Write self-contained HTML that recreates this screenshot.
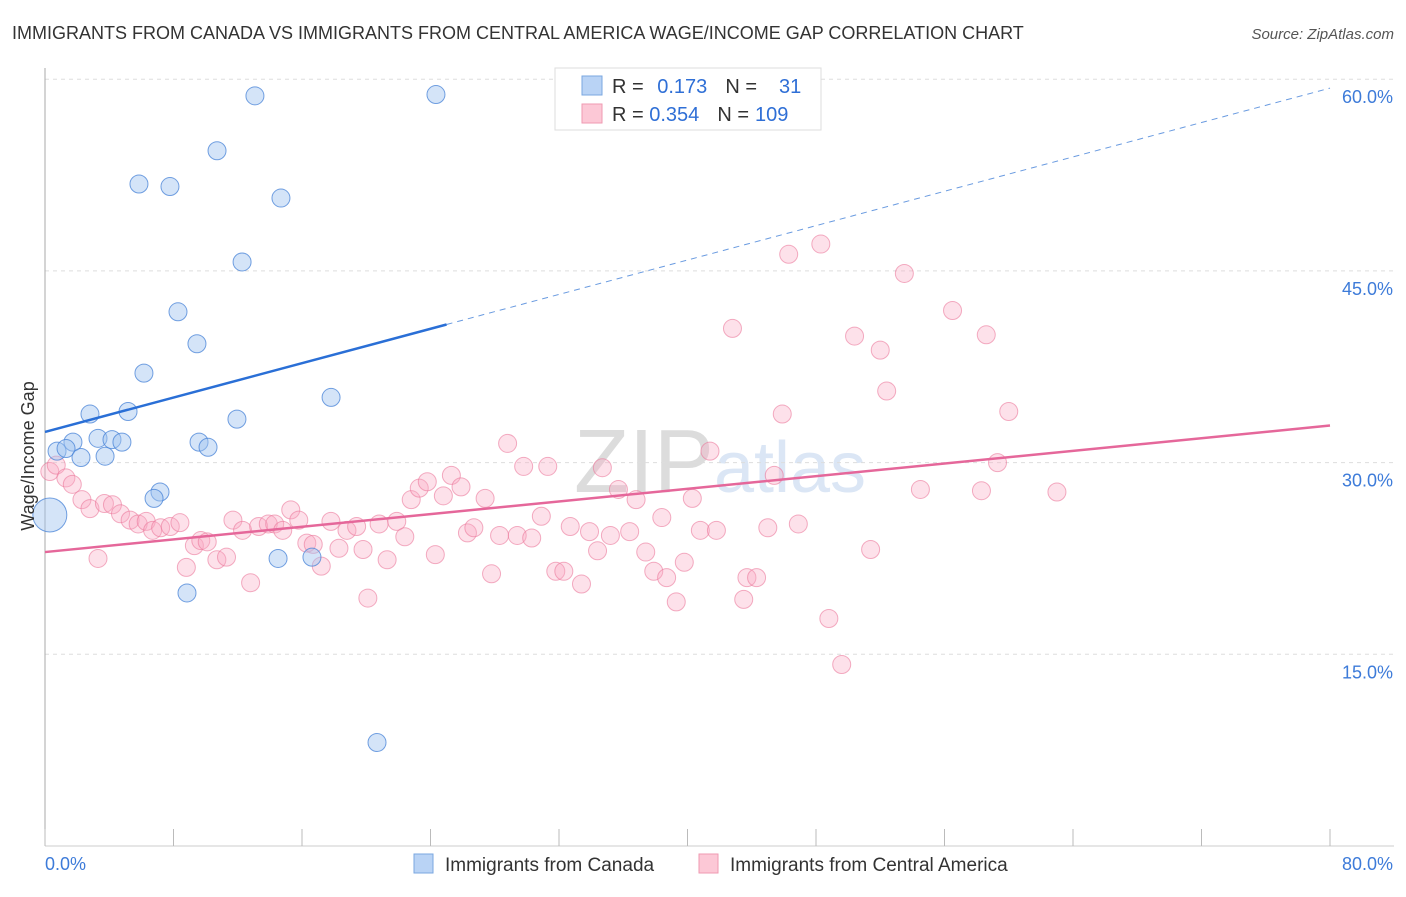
<!DOCTYPE html>
<html><head><meta charset="utf-8"><style>
body{margin:0;background:#fff;font-family:"Liberation Sans",sans-serif;}
svg text{font-family:"Liberation Sans",sans-serif;}
</style></head><body>
<svg id="chart" width="1406" height="892" viewBox="0 0 1406 892">
<text x="12" y="39" font-size="18" fill="#333">IMMIGRANTS FROM CANADA VS IMMIGRANTS FROM CENTRAL AMERICA WAGE/INCOME GAP CORRELATION CHART</text>
<text x="1394" y="39" font-size="15" fill="#555" text-anchor="end" font-style="italic">Source: ZipAtlas.com</text>
<text x="720" y="492" font-size="90" fill="#e4e4e4" text-anchor="middle" font-family="Liberation Serif"><tspan fill="#dcdcdc">ZIP</tspan><tspan fill="#dbe6f5" font-family="Liberation Sans" font-size="72">atlas</tspan></text>
<g id="grid"></g>
<g id="axes"></g>
<g id="pink"></g>
<g id="blue"></g>
<g id="lines"></g>
<text transform="translate(34,456) rotate(-90)" font-size="18" fill="#333" text-anchor="middle">Wage/Income Gap</text>
<g>
<rect x="555" y="68" width="266" height="62" fill="#fff" stroke="#ddd"/>
<rect x="582" y="76" width="20" height="19" fill="#b9d3f5" stroke="#7aa7e0"/>
<rect x="582" y="104" width="20" height="19" fill="#fcc8d6" stroke="#ef9ab2"/>
<text x="612" y="93" font-size="20" fill="#333">R = <tspan fill="#2f6fd6" dx="8">0.173</tspan><tspan fill="#333" dx="18">N =</tspan><tspan fill="#2f6fd6" dx="22">31</tspan></text>
<text x="612" y="121" font-size="20" fill="#333">R = <tspan fill="#2f6fd6">0.354</tspan><tspan fill="#333" dx="18">N =</tspan><tspan fill="#2f6fd6" dx="6">109</tspan></text>
</g>
<g>
<rect x="414" y="854" width="19" height="19" fill="#b9d3f5" stroke="#7aa7e0"/>
<text x="445" y="871" font-size="19" fill="#333">Immigrants from Canada</text>
<rect x="699" y="854" width="19" height="19" fill="#fcc8d6" stroke="#ef9ab2"/>
<text x="730" y="871" font-size="19" fill="#333">Immigrants from Central America</text>
</g>
</svg>
<script>
const blueX=[13.07,24.34,10.71,5.85,7.78,14.69,12.27,8.28,9.46,6.16,17.81,5.17,2.80,11.95,3.30,4.17,4.79,1.74,9.59,10.15,0.75,1.31,2.24,3.74,7.16,6.79,14.51,16.62,8.84,20.67];
const blueY=[58.7,58.8,54.4,51.8,51.6,50.7,45.7,41.8,39.3,37.0,35.1,34.0,33.8,33.4,31.9,31.8,31.6,31.6,31.6,31.2,30.9,31.1,30.4,30.5,27.7,27.2,22.5,22.6,19.8,8.1];
const blueBigX=[0.3];
const blueBigY=[25.9];
const pinkX=[0.3,0.7,1.3,1.7,2.3,2.8,3.3,3.7,4.2,4.7,5.3,5.8,6.3,6.7,7.2,7.8,8.4,8.8,9.3,9.7,10.1,10.7,11.3,11.7,12.3,12.8,13.3,13.9,14.3,14.8,15.3,15.8,16.3,16.7,17.2,17.8,18.3,18.8,19.4,19.8,20.1,20.8,21.3,21.9,22.4,22.8,23.3,23.8,24.3,24.8,25.3,25.9,26.3,26.7,27.4,27.8,28.3,28.8,29.4,29.8,30.3,30.9,31.3,31.8,32.3,32.7,33.4,33.9,34.4,34.7,35.2,35.7,36.4,36.8,37.4,37.9,38.4,38.7,39.3,39.8,40.3,40.8,41.4,41.8,42.8,43.5,43.7,44.3,45.0,45.4,45.9,46.3,46.9,48.3,48.8,49.6,50.4,51.4,52.0,52.4,53.5,54.5,56.5,58.3,58.6,59.3,60.0,63.0];
const pinkY=[29.3,29.8,28.8,28.3,27.1,26.4,22.5,26.8,26.7,26.0,25.5,25.2,25.4,24.7,24.9,25.0,25.3,21.8,23.5,23.9,23.8,22.4,22.6,25.5,24.7,20.6,25.0,25.2,25.2,24.7,26.3,25.5,23.7,23.6,21.9,25.4,23.3,24.7,25.0,23.2,19.4,25.2,22.4,25.4,24.2,27.1,28.0,28.5,22.8,27.4,29.0,28.1,24.5,24.9,27.2,21.3,24.3,31.5,24.3,29.7,24.1,25.8,29.7,21.5,21.5,25.0,20.5,24.6,23.1,29.6,24.3,27.9,24.6,27.1,23.0,21.5,25.7,21.0,19.1,22.2,27.2,24.7,30.9,24.7,40.5,19.3,21.0,21.0,24.9,29.0,33.8,46.3,25.2,47.1,17.8,14.2,39.9,23.2,38.8,35.6,44.8,27.9,41.9,27.8,40.0,30.0,34.0,27.7];
const blueLine=[32.4,59.3];
const blueSolidEnd=25.0;
const pinkLine=[23.0,32.9];
const yTicks=[15,30,45,60];
const yTickLabels=["15.0%","30.0%","45.0%","60.0%"];
const xTicks=[0,8,16,24,32,40,48,56,64,72,80];
const NS="http://www.w3.org/2000/svg";
const X=v=>45+v/80*1285;
const Y=v=>846-v/15*191.7;
function mk(parent,tag,attrs){const e=document.createElementNS(NS,tag);for(const k in attrs)e.setAttribute(k,attrs[k]);document.getElementById(parent).appendChild(e);return e;}
yTicks.forEach((t,i)=>{
 const l=mk('grid','line',{x1:45,x2:1394,y1:Y(t),y2:Y(t),stroke:'#ddd','stroke-dasharray':'4,4'});
 
 
 const tx=mk('grid','text',{x:1393,y:Y(t)+24,'font-size':18,fill:'#3d7bd9','text-anchor':'end'});
 tx.textContent=yTickLabels[i];
 
 
});
const ax=mk('axes','line',{x1:45,x2:45,y1:68,y2:846,stroke:'#aaa'});


const bx=mk('axes','line',{x1:45,x2:1394,y1:846,y2:846,stroke:'#ccc'});


xTicks.forEach(t=>{
 const l=mk('axes','line',{x1:X(t),x2:X(t),y1:829,y2:846,stroke:'#bbb'});
 
 
});
const xl0=mk('axes','text',{x:45,y:870,'font-size':18,fill:'#3d7bd9'});xl0.textContent='0.0%';


const xl1=mk('axes','text',{x:1393,y:870,'font-size':18,fill:'#3d7bd9','text-anchor':'end'});xl1.textContent='80.0%';


pinkX.forEach((v,i)=>{
 const c=mk('pink','circle',{cx:X(v),cy:Y(pinkY[i]),r:9,fill:'rgba(248,170,195,0.35)',stroke:'rgba(235,120,155,0.6)','stroke-width':1});
 
 
});
blueX.forEach((v,i)=>{
 const c=mk('blue','circle',{cx:X(v),cy:Y(blueY[i]),r:9,fill:'rgba(160,195,240,0.45)',stroke:'rgba(70,130,215,0.75)','stroke-width':1});
 
 
});
blueBigX.forEach((v,i)=>{
 const c=mk('blue','circle',{cx:X(v),cy:Y(blueBigY[i]),r:17,fill:'rgba(160,195,240,0.45)',stroke:'rgba(70,130,215,0.75)','stroke-width':1});
 
 
});
const by=x=>blueLine[0]+(blueLine[1]-blueLine[0])*x/80;
const b1=mk('lines','line',{x1:X(0),y1:Y(by(0)),x2:X(blueSolidEnd),y2:Y(by(blueSolidEnd)),stroke:'#2a6fd6','stroke-width':2.5});


const b2=mk('lines','line',{x1:X(blueSolidEnd),y1:Y(by(blueSolidEnd)),x2:X(80),y2:Y(by(80)),stroke:'#6a9be0','stroke-width':1,'stroke-dasharray':'6,5'});


const p1=mk('lines','line',{x1:X(0),y1:Y(pinkLine[0]),x2:X(80),y2:Y(pinkLine[1]),stroke:'#e5679a','stroke-width':2.5});


</script>
</body></html>
